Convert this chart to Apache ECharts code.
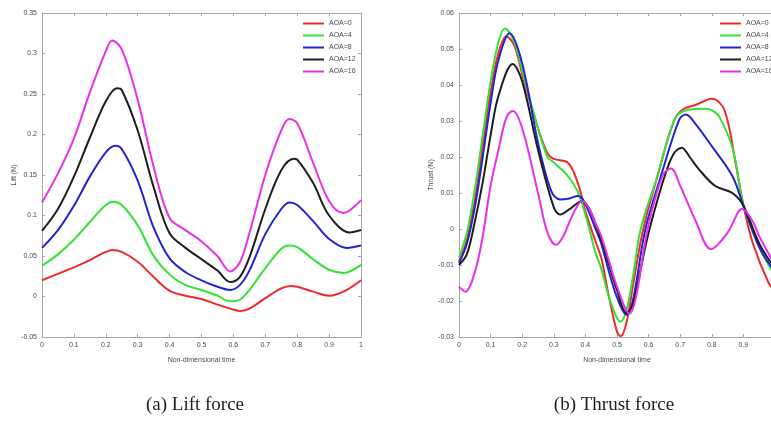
<!DOCTYPE html>
<html>
<head>
<meta charset="utf-8">
<script src="https://cdn.jsdelivr.net/npm/echarts@6/dist/echarts.min.js"></script>
<style>
  html, body { margin: 0; padding: 0; background: #fff; }
  #chart { width: 771px; height: 421px; }
</style>
</head>
<body>
<div id="chart"></div>
<script>
// Lift and thrust histories over one flapping cycle, [non-dimensional time, force (N)]
const seriesNames = ['AOA=0', 'AOA=4', 'AOA=8', 'AOA=12', 'AOA=16'];
const seriesColors = ['#f02a2a', '#34e234', '#2323d6', '#1e1e1e', '#ea2fea'];

const liftAoa0 = [[0,0.020],[0.05,0.028],[0.1,0.036],[0.15,0.045],[0.2,0.055],[0.22,0.0575],[0.25,0.055],[0.3,0.043],[0.35,0.024],[0.4,0.007],[0.45,0.001],[0.5,-0.003],[0.55,-0.010],[0.6,-0.016],[0.62,-0.018],[0.65,-0.015],[0.7,-0.002],[0.75,0.010],[0.78,0.013],[0.8,0.012],[0.85,0.006],[0.9,0.001],[0.95,0.007],[1,0.020]];
const liftAoa4 = [[0,0.038],[0.05,0.052],[0.1,0.070],[0.15,0.092],[0.2,0.113],[0.225,0.117],[0.25,0.113],[0.3,0.088],[0.35,0.050],[0.4,0.027],[0.45,0.014],[0.5,0.008],[0.55,0.001],[0.59,-0.006],[0.62,-0.004],[0.65,0.008],[0.7,0.035],[0.75,0.059],[0.775,0.063],[0.8,0.061],[0.85,0.046],[0.9,0.033],[0.945,0.029],[1,0.039]];
const liftAoa8 = [[0,0.060],[0.05,0.082],[0.1,0.112],[0.15,0.148],[0.2,0.178],[0.23,0.186],[0.25,0.182],[0.3,0.143],[0.35,0.085],[0.4,0.047],[0.45,0.030],[0.5,0.020],[0.55,0.012],[0.59,0.008],[0.62,0.014],[0.65,0.032],[0.7,0.077],[0.75,0.108],[0.775,0.116],[0.8,0.113],[0.85,0.093],[0.9,0.071],[0.955,0.060],[1,0.063]];
const liftAoa12 = [[0,0.081],[0.05,0.108],[0.1,0.148],[0.15,0.196],[0.2,0.241],[0.235,0.257],[0.25,0.255],[0.3,0.205],[0.35,0.135],[0.4,0.078],[0.45,0.060],[0.5,0.046],[0.55,0.032],[0.59,0.018],[0.62,0.024],[0.65,0.048],[0.7,0.108],[0.75,0.156],[0.79,0.170],[0.8,0.169],[0.85,0.140],[0.9,0.100],[0.965,0.079],[1,0.082]];
const liftAoa16 = [[0,0.116],[0.05,0.152],[0.1,0.195],[0.15,0.252],[0.2,0.303],[0.22,0.316],[0.25,0.305],[0.3,0.243],[0.35,0.160],[0.4,0.097],[0.45,0.082],[0.5,0.068],[0.55,0.050],[0.59,0.031],[0.62,0.042],[0.65,0.078],[0.7,0.150],[0.75,0.205],[0.775,0.219],[0.8,0.214],[0.85,0.165],[0.9,0.118],[0.945,0.103],[1,0.119]];

const thrustAoa0 = [[0,-0.009],[0.025,-0.003],[0.05,0.008],[0.075,0.023],[0.1,0.038],[0.125,0.049],[0.15,0.0535],[0.175,0.051],[0.2,0.043],[0.25,0.028],[0.28,0.021],[0.3,0.0195],[0.345,0.0184],[0.375,0.013],[0.4,0.005],[0.43,-0.003],[0.45,-0.008],[0.475,-0.019],[0.5,-0.0285],[0.512,-0.0298],[0.53,-0.026],[0.55,-0.016],[0.583,0.000],[0.629,0.015],[0.68,0.030],[0.708,0.0332],[0.75,0.0345],[0.8,0.0362],[0.84,0.033],[0.877,0.0175],[0.9,0.0065],[0.93,-0.004],[0.98,-0.015],[1,-0.017]];
const thrustAoa4 = [[0,-0.008],[0.025,-0.001],[0.05,0.011],[0.075,0.026],[0.1,0.041],[0.125,0.052],[0.145,0.0557],[0.175,0.052],[0.2,0.044],[0.25,0.028],[0.28,0.020],[0.3,0.0185],[0.345,0.0147],[0.375,0.0105],[0.4,0.004],[0.43,-0.006],[0.45,-0.011],[0.475,-0.019],[0.5,-0.0248],[0.512,-0.0257],[0.53,-0.0225],[0.55,-0.0135],[0.575,0.000],[0.629,0.015],[0.682,0.0304],[0.72,0.033],[0.78,0.0334],[0.8,0.033],[0.825,0.031],[0.867,0.022],[0.9,0.0068],[0.95,-0.005],[1,-0.013]];
const thrustAoa8 = [[0,-0.0095],[0.025,-0.004],[0.05,0.006],[0.075,0.020],[0.1,0.035],[0.125,0.047],[0.16,0.0544],[0.2,0.046],[0.25,0.024],[0.292,0.0105],[0.32,0.0082],[0.35,0.0085],[0.376,0.0092],[0.39,0.0085],[0.41,0.005],[0.43,0.0005],[0.45,-0.004],[0.475,-0.012],[0.5,-0.019],[0.53,-0.0238],[0.55,-0.020],[0.59,0.000],[0.64,0.015],[0.697,0.0304],[0.718,0.0318],[0.75,0.029],[0.8,0.023],[0.865,0.0147],[0.9,0.0065],[0.95,-0.005],[1,-0.012]];
const thrustAoa12 = [[0,-0.010],[0.025,-0.007],[0.05,0.002],[0.075,0.013],[0.1,0.026],[0.125,0.037],[0.17,0.0458],[0.2,0.041],[0.25,0.022],[0.3,0.006],[0.32,0.004],[0.35,0.0055],[0.39,0.0078],[0.41,0.006],[0.43,0.002],[0.45,-0.003],[0.475,-0.010],[0.5,-0.017],[0.53,-0.0233],[0.55,-0.021],[0.575,-0.011],[0.603,0.000],[0.652,0.015],[0.68,0.021],[0.705,0.0226],[0.73,0.020],[0.76,0.0165],[0.81,0.012],[0.865,0.010],[0.9,0.0065],[0.95,-0.004],[1,-0.011]];
const thrustAoa16 = [[0,-0.016],[0.02,-0.0174],[0.05,-0.012],[0.075,-0.002],[0.1,0.012],[0.125,0.022],[0.15,0.031],[0.17,0.0328],[0.2,0.028],[0.25,0.010],[0.28,-0.001],[0.307,-0.0044],[0.33,-0.002],[0.36,0.004],[0.39,0.0078],[0.41,0.006],[0.43,0.002],[0.45,-0.002],[0.475,-0.009],[0.5,-0.016],[0.54,-0.0235],[0.56,-0.019],[0.597,0.000],[0.645,0.015],[0.671,0.0168],[0.7,0.012],[0.75,0.002],[0.797,-0.0056],[0.85,-0.001],[0.897,0.0056],[0.93,0.002],[0.95,-0.002],[1,-0.010]];

const liftData = [liftAoa0, liftAoa4, liftAoa8, liftAoa12, liftAoa16];
const thrustData = [thrustAoa0, thrustAoa4, thrustAoa8, thrustAoa12, thrustAoa16];

// Axis ranges
const timeRange = { min: 0, max: 1, interval: 0.1 };
const liftRange = { min: -0.05, max: 0.35, interval: 0.05 };
const thrustRange = { min: -0.03, max: 0.06, interval: 0.01 };

const captions = ['(a) Lift force', '(b) Thrust force'];
const xName = 'Non-dimensional time';
const yNames = ['Lift (N)', 'Thrust (N)'];

const sansFont = '"Liberation Sans", Arial, sans-serif';
const serifFont = '"Liberation Serif", "DejaVu Serif", serif';
const frameColor = '#a8a8a8';
const labelColor = '#4a4a4a';

// The thrust panel runs slightly past the right edge of the page
const grids = [
  { left: 42, top: 13, width: 319, height: 324, outerBoundsMode: 'none', containLabel: false },
  { left: 459, top: 13, width: 316, height: 324, outerBoundsMode: 'none', containLabel: false }
];

const frameLine = { show: true, onZero: false, lineStyle: { color: frameColor, width: 1 } };
const innerTick = { show: true, inside: true, length: 3, lineStyle: { color: frameColor } };
const tickText = { fontFamily: sansFont, fontSize: 7, color: labelColor, margin: 5 };

function bottomAxis(gridIndex) {
  return {
    type: 'value', gridIndex, position: 'bottom',
    min: timeRange.min, max: timeRange.max, interval: timeRange.interval,
    name: xName, nameLocation: 'middle', nameGap: 20,
    nameTextStyle: { fontFamily: sansFont, fontSize: 7, color: labelColor },
    axisLine: frameLine, axisTick: innerTick, axisLabel: tickText,
    splitLine: { show: false }
  };
}
function topAxis(gridIndex) {
  return {
    type: 'value', gridIndex, position: 'top',
    min: timeRange.min, max: timeRange.max, interval: timeRange.interval,
    axisLine: frameLine, axisTick: innerTick,
    axisLabel: { show: false }, splitLine: { show: false }
  };
}
function leftAxis(gridIndex, range, name, gap) {
  return {
    type: 'value', gridIndex, position: 'left',
    min: range.min, max: range.max, interval: range.interval,
    name, nameLocation: 'middle', nameGap: gap, nameRotate: 90,
    nameTextStyle: { fontFamily: sansFont, fontSize: 7, color: labelColor },
    axisLine: frameLine, axisTick: innerTick, axisLabel: tickText,
    splitLine: { show: false }
  };
}
function rightAxis(gridIndex, range) {
  return {
    type: 'value', gridIndex, position: 'right',
    min: range.min, max: range.max, interval: range.interval,
    axisLine: frameLine, axisTick: innerTick,
    axisLabel: { show: false }, splitLine: { show: false }
  };
}

function makeSeries(dataSets, axisIndex) {
  return dataSets.map((d, i) => ({
    name: seriesNames[i],
    type: 'line',
    xAxisIndex: axisIndex,
    yAxisIndex: axisIndex,
    data: d,
    smooth: 0.35,
    symbol: 'none',
    lineStyle: { color: seriesColors[i], width: 2 },
    itemStyle: { color: seriesColors[i] }
  }));
}

function makeLegend(left) {
  return {
    orient: 'vertical', left, top: 20, padding: 0,
    itemWidth: 21, itemHeight: 7, itemGap: 5,
    data: seriesNames,
    textStyle: { fontFamily: sansFont, fontSize: 7, color: labelColor, lineHeight: 7 },
    icon: 'path://M0,3 L21,3 L21,5 L0,5 Z'
  };
}

const chart = echarts.init(document.getElementById('chart'), null, { renderer: 'canvas' });
chart.setOption({
  backgroundColor: '#ffffff',
  animation: false,
  grid: grids,
  xAxis: [bottomAxis(0), bottomAxis(1), topAxis(0), topAxis(1)],
  yAxis: [leftAxis(0, liftRange, yNames[0], 23), leftAxis(1, thrustRange, yNames[1], 21), rightAxis(0, liftRange), rightAxis(1, thrustRange)],
  legend: [makeLegend(303), makeLegend(720)],
  title: [
    { text: captions[0], left: 195, top: 396, textAlign: 'center', padding: 0,
      textStyle: { fontFamily: serifFont, fontSize: 19, fontWeight: 'normal', color: '#222' } },
    { text: captions[1], left: 614, top: 396, textAlign: 'center', padding: 0,
      textStyle: { fontFamily: serifFont, fontSize: 19, fontWeight: 'normal', color: '#222' } }
  ],
  series: [...makeSeries(liftData, 0), ...makeSeries(thrustData, 1)]
});
</script>
</body>
</html>
